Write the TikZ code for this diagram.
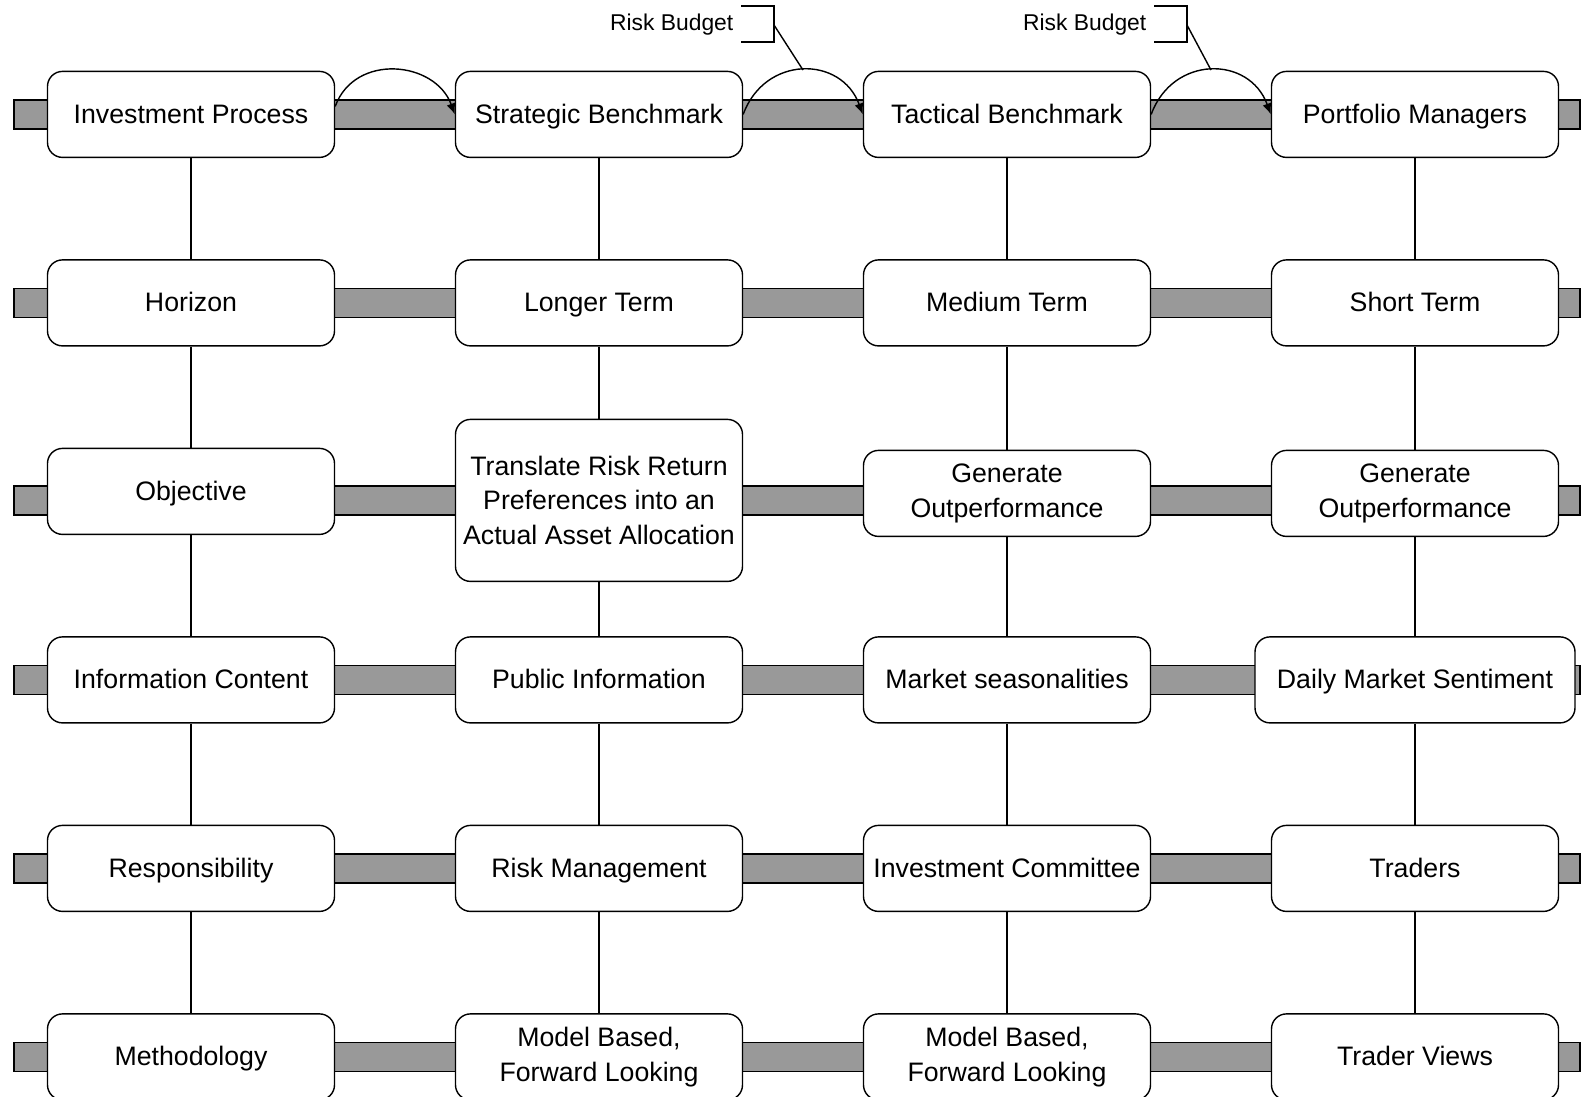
\documentclass[tikz,border=0pt]{standalone}
\usepackage{fontspec}
\setmainfont{Liberation Sans}
\usepackage{xcolor}
\usepackage{tikz}
\usetikzlibrary{arrows.meta, positioning, backgrounds, calc}
\definecolor{bandgray}{RGB}{153,153,153}
\tikzset{
  box/.style={rectangle, rounded corners=0.15cm, minimum width=2.87cm,
    minimum height=0.86cm, align=center, draw, thin, fill=white,
    inner sep=1pt, font=\fontsize{7.6}{9.8}\selectfont},
  cell/.style={box, text height=0.72em, text depth=0.22em},
  tallcell/.style={box, minimum height=1.62cm},
  widecell/.style={cell, minimum width=3.2cm},
  band/.style={draw, thin, fill=bandgray},
  link/.style={thin},
  flow/.style={-{Latex[length=1.1mm,width=0.9mm]}, thin},
  note/.style={inner sep=0pt, anchor=east, font=\fontsize{6.5}{8}\selectfont},
}
\begin{document}
\begin{tikzpicture}[node distance=1.885cm and 4.08cm, on grid]
  \useasboundingbox (0,0) rectangle (15.81,-10.97);
  % top row
  \node[cell] (ip) at (1.91,-1.144) {Investment Process};
  \node[cell, right=of ip] (sb) {Strategic Benchmark};
  \node[cell, right=of sb] (tb) {Tactical Benchmark};
  \node[cell, right=of tb] (pm) {Portfolio Managers};
  % horizon
  \node[cell, below=of ip] (hz) {Horizon};
  \node[cell, right=of hz] (lt) {Longer Term};
  \node[cell, right=of lt] (mt) {Medium Term};
  \node[cell, right=of mt] (st) {Short Term};
  % objective
  \node[cell, below=of hz] (obj) {Objective};
  \node[tallcell, below=of lt, yshift=-0.09cm] (tr)
    {Translate Risk Return\\Preferences into an\\Actual Asset Allocation};
  \node[box, below=of mt, yshift=-0.02cm] (go1) {Generate\\Outperformance};
  \node[box, below=of st, yshift=-0.02cm] (go2) {Generate\\Outperformance};
  % information content
  \node[cell, below=of obj] (ic) {Information Content};
  \node[cell, right=of ic] (pub) {Public Information};
  \node[cell, right=of pub] (ms) {Market seasonalities};
  \node[widecell, right=of ms] (dms) {Daily Market Sentiment};
  % responsibility
  \node[cell, below=of ic] (resp) {Responsibility};
  \node[cell, right=of resp] (rm) {Risk Management};
  \node[cell, right=of rm] (comm) {Investment Committee};
  \node[cell, right=of comm] (trd) {Traders};
  % methodology
  \node[cell, below=of resp] (meth) {Methodology};
  \node[box, right=of meth] (mb1) {Model Based,\\Forward Looking};
  \node[box, right=of mb1] (mb2) {Model Based,\\Forward Looking};
  \node[cell, right=of mb2] (tv) {Trader Views};

  % grey bands behind each row
  \coordinate (bl) at (0.14,0);
  \coordinate (br) at (15.80,0);
  \begin{scope}[on background layer]
    \foreach \r in {ip,hz,tr,ic,resp,meth}
      \draw[band] ($(bl |- \r)+(0,0.145)$) rectangle ($(br |- \r)-(0,0.145)$);
  \end{scope}

  % columns
  \foreach \a/\b in {ip/hz,hz/obj,obj/ic,ic/resp,resp/meth,
                     sb/lt,lt/tr,tr/pub,pub/rm,rm/mb1,
                     tb/mt,mt/go1,go1/ms,ms/comm,comm/mb2,
                     pm/st,st/go2,go2/dms,dms/trd,trd/tv}
    \draw[link] (\a) -- (\b);

  % hand-over arcs
  \draw[flow] ([yshift=0.08cm]ip.east) to[out=70, in=110, looseness=1.22] (sb.west);
  \draw[flow] (sb.east) to[out=70, in=110, looseness=1.35]
    coordinate[pos=.5] (pk2) (tb.west);
  \draw[flow] (tb.east) to[out=70, in=110, looseness=1.35]
    coordinate[pos=.5] (pk3) (pm.west);

  % risk budget callouts
  \node[note] (rb1) at (7.34,-0.25) {Risk Budget};
  \draw[link] ([xshift=0.07cm,yshift=0.19cm]rb1.east)
    -| ([xshift=0.40cm,yshift=-0.17cm]rb1.east) -- ++(-0.33,0);
  \draw[link] ([xshift=0.40cm]rb1.east) -- (pk2);
  \node[note] (rb2) at (11.47,-0.25) {Risk Budget};
  \draw[link] ([xshift=0.07cm,yshift=0.19cm]rb2.east)
    -| ([xshift=0.40cm,yshift=-0.17cm]rb2.east) -- ++(-0.33,0);
  \draw[link] ([xshift=0.40cm]rb2.east) -- (pk3);
\end{tikzpicture}
\end{document}
